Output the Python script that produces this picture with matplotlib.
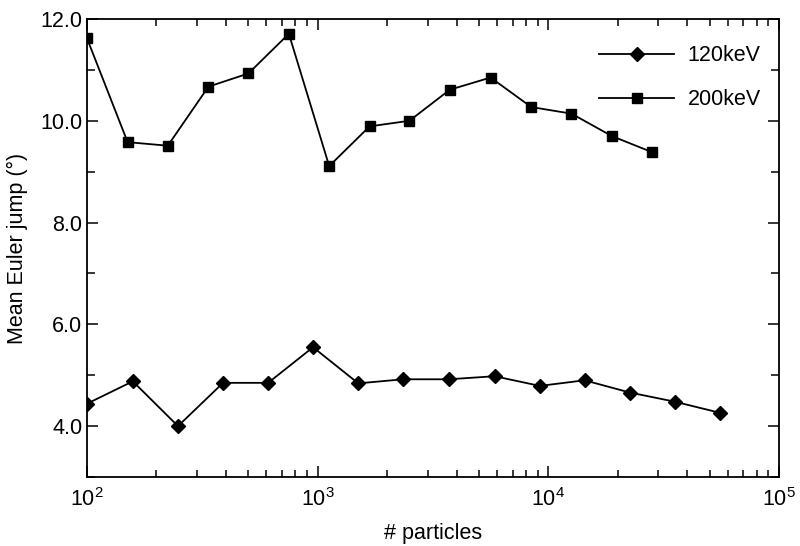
import matplotlib
matplotlib.use("Agg")
import matplotlib.pyplot as plt
from matplotlib.ticker import LogLocator, NullFormatter, MultipleLocator, FormatStrFormatter

plt.rcParams['font.family'] = ['Liberation Sans', 'DejaVu Sans']
plt.rcParams['mathtext.fontset'] = 'custom'
plt.rcParams['mathtext.rm'] = 'Liberation Sans'
plt.rcParams['mathtext.it'] = 'Liberation Sans'

particles_120 = [100, 158, 248, 389, 610, 955, 1500, 2350, 3700, 5850, 9190, 14360, 22540, 35320, 55600]
jump_120 = [4.44, 4.88, 4.00, 4.85, 4.85, 5.55, 4.84, 4.92, 4.92, 4.98, 4.79, 4.90, 4.66, 4.48, 4.26]

particles_200 = [100, 150, 224, 336, 501, 750, 1122, 1680, 2500, 3740, 5620, 8430, 12600, 18840, 28260]
jump_200 = [11.62, 9.58, 9.51, 10.67, 10.93, 11.71, 9.11, 9.89, 10.00, 10.61, 10.85, 10.27, 10.14, 9.70, 9.38]

FS = 15.5

fig = plt.figure(figsize=(8, 5.46), dpi=100)
ax = fig.add_axes([0.10875, 0.1264, 0.865, 0.8388])

ax.plot(particles_120, jump_120, color='black', lw=1.3, marker='D', markersize=7.5, label='120keV')
ax.plot(particles_200, jump_200, color='black', lw=1.3, marker='s', markersize=6.5, label='200keV')

ax.set_xscale('log')
ax.set_xlim(100, 1e5)
ax.set_ylim(3.0, 12.0)
ax.set_yticks([4.0, 6.0, 8.0, 10.0, 12.0])
ax.yaxis.set_major_formatter(FormatStrFormatter('%.1f'))
ax.yaxis.set_minor_locator(MultipleLocator(1.0))
ax.xaxis.set_major_locator(LogLocator(base=10, numticks=10))
ax.xaxis.set_minor_locator(LogLocator(base=10, subs=range(2, 10), numticks=20))
ax.xaxis.set_minor_formatter(NullFormatter())

ax.tick_params(which='both', direction='in', top=True, right=True, labelsize=FS, width=1.1, colors='black')
ax.tick_params(which='major', length=8)
ax.tick_params(axis='y', which='major', pad=3.5)
ax.tick_params(axis='x', which='major', pad=8)
ax.tick_params(axis='y', which='minor', length=6)
ax.tick_params(axis='x', which='minor', length=5)
for s in ax.spines.values():
    s.set_linewidth(1.3)

ax.set_xlabel('# particles', fontsize=FS, labelpad=9)
ax.set_ylabel('Mean Euler jump (°)', fontsize=FS, labelpad=9)

ax.legend(loc='upper right', frameon=False, fontsize=FS, handlelength=3.45,
          labelspacing=1.06, bbox_to_anchor=(1.002, 0.985), handletextpad=0.65)

fig.savefig('out.png', dpi=100)
